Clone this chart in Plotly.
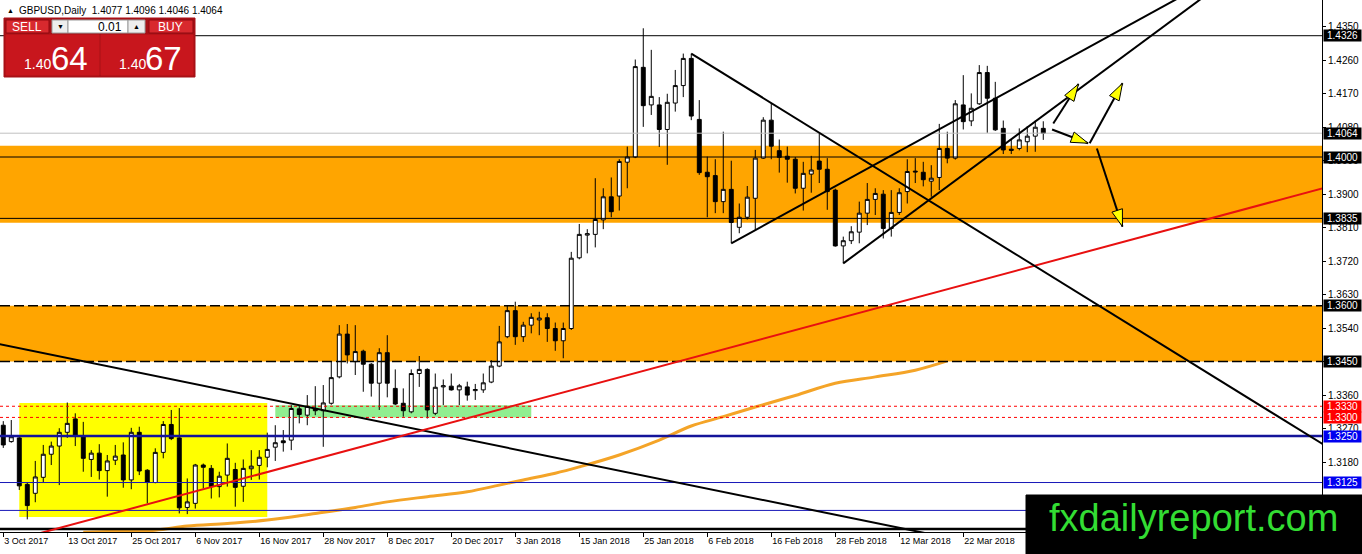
import math
import pandas as pd
import plotly.graph_objects as go

# daily bars (MT4 server has no bars for 25 Dec / 1 Jan)
dates = [d.strftime("%Y-%m-%d") for d in pd.bdate_range("2017-10-03", "2018-04-05")
         if d.strftime("%m-%d") not in ("12-25", "01-01")]

opens = [1.3279, 1.3235, 1.3245, 1.3120, 1.3096, 1.3139, 1.3201, 1.3223, 1.3260, 1.3296,
         1.3251, 1.3187, 1.3204, 1.3157, 1.3185, 1.3199, 1.3132, 1.3260, 1.3158, 1.3125,
         1.3206, 1.3281, 1.3245, 1.3058, 1.3069, 1.3172, 1.3163, 1.3114, 1.3145, 1.3160,
         1.3115, 1.3162, 1.3171, 1.3193, 1.3220, 1.3237, 1.3239, 1.3323, 1.3306, 1.3324,
         1.3318, 1.3338, 1.3409, 1.3524, 1.3450, 1.3478, 1.3443, 1.3392, 1.3474, 1.3378,
         1.3338, 1.3315, 1.3418, 1.3429, 1.3311, 1.3382, 1.3384, 1.3374, 1.3382, 1.3372,
         1.3374, 1.3395, 1.3438, 1.3517, 1.3587, 1.3517, 1.3548, 1.3562, 1.3568, 1.3539,
         1.3506, 1.3539, 1.3729, 1.3790, 1.3792, 1.3831, 1.3893, 1.3895, 1.3986, 1.4000,
         1.4241, 1.4140, 1.4140, 1.4074, 1.4145, 1.4192, 1.4265, 1.4101, 1.3959, 1.3950,
         1.3880, 1.3913, 1.3811, 1.3838, 1.3889, 1.3997, 1.4099, 1.4017, 1.4002, 1.3994,
         1.3916, 1.3954, 1.3989, 1.3967, 1.3911, 1.3761, 1.3775, 1.3798, 1.3849, 1.3886,
         1.3900, 1.3808, 1.3851, 1.3907, 1.3962, 1.3959, 1.3935, 1.3945, 1.4023, 1.3997,
         1.4140, 1.4097, 1.4143, 1.4227, 1.4158, 1.4077, 1.4021, 1.4023, 1.4041, 1.4056,
         1.4077]
highs = [1.3290, 1.3293, 1.3248, 1.3126, 1.3183, 1.3226, 1.3235, 1.3271, 1.3340, 1.3311,
         1.3288, 1.3212, 1.3228, 1.3199, 1.3226, 1.3233, 1.3272, 1.3275, 1.3161, 1.3217,
         1.3290, 1.3320, 1.3325, 1.3136, 1.3175, 1.3176, 1.3172, 1.3154, 1.3230, 1.3178,
         1.3187, 1.3212, 1.3212, 1.3259, 1.3279, 1.3266, 1.3333, 1.3331, 1.3360, 1.3384,
         1.3387, 1.3450, 1.3548, 1.3551, 1.3548, 1.3482, 1.3446, 1.3486, 1.3521, 1.3429,
         1.3378, 1.3429, 1.3465, 1.3432, 1.3418, 1.3402, 1.3418, 1.3390, 1.3396, 1.3390,
         1.3418, 1.3454, 1.3546, 1.3602, 1.3611, 1.3557, 1.3580, 1.3584, 1.3580, 1.3555,
         1.3555, 1.3745, 1.3820, 1.3806, 1.3943, 1.3916, 1.3945, 1.3994, 1.4028, 1.4262,
         1.4346, 1.4288, 1.4161, 1.4170, 1.4234, 1.4278, 1.4278, 1.4153, 1.4001, 1.3994,
         1.4068, 1.3990, 1.3875, 1.3922, 1.4019, 1.4107, 1.4145, 1.4047, 1.4028, 1.4000,
         1.3987, 1.4003, 1.4063, 1.3997, 1.3915, 1.3786, 1.3814, 1.3880, 1.3930, 1.3916,
         1.3911, 1.3911, 1.3916, 1.3994, 1.3997, 1.3987, 1.3978, 1.4089, 1.4068, 1.4153,
         1.4220, 1.4171, 1.4247, 1.4245, 1.4202, 1.4098, 1.4046, 1.4077, 1.4083, 1.4098,
         1.4096]
lows = [1.3218, 1.3232, 1.3105, 1.3026, 1.3072, 1.3126, 1.3172, 1.3118, 1.3245, 1.3223,
        1.3154, 1.3140, 1.3133, 1.3087, 1.3172, 1.3111, 1.3107, 1.3145, 1.3069, 1.3123,
        1.3190, 1.3239, 1.3042, 1.3040, 1.3055, 1.3109, 1.3082, 1.3085, 1.3114, 1.3060,
        1.3073, 1.3132, 1.3133, 1.3166, 1.3183, 1.3208, 1.3212, 1.3284, 1.3279, 1.3306,
        1.3221, 1.3334, 1.3405, 1.3445, 1.3414, 1.3369, 1.3356, 1.3320, 1.3354, 1.3333,
        1.3302, 1.3311, 1.3382, 1.3297, 1.3306, 1.3333, 1.3372, 1.3333, 1.3345, 1.3347,
        1.3366, 1.3392, 1.3435, 1.3513, 1.3495, 1.3503, 1.3526, 1.3521, 1.3503, 1.3479,
        1.3459, 1.3535, 1.3725, 1.3741, 1.3757, 1.3806, 1.3838, 1.3856, 1.3916, 1.3997,
        1.4081, 1.4113, 1.4027, 1.3979, 1.4122, 1.4161, 1.4099, 1.3952, 1.3838, 1.3849,
        1.3849, 1.3768, 1.3795, 1.3832, 1.3804, 1.3995, 1.3994, 1.3958, 1.3931, 1.3902,
        1.3856, 1.3904, 1.3930, 1.3858, 1.3759, 1.3714, 1.3766, 1.3768, 1.3817, 1.3844,
        1.3781, 1.3786, 1.3844, 1.3875, 1.3930, 1.3921, 1.3893, 1.3911, 1.3983, 1.3993,
        1.4074, 1.4083, 1.4140, 1.4065, 1.4070, 1.4008, 1.4008, 1.4018, 1.4013, 1.4014,
        1.4046]
closes = [1.3226, 1.3248, 1.3116, 1.3063, 1.3140, 1.3201, 1.3223, 1.3260, 1.3284, 1.3251,
          1.3190, 1.3204, 1.3157, 1.3183, 1.3196, 1.3132, 1.3260, 1.3156, 1.3125, 1.3206,
          1.3281, 1.3243, 1.3057, 1.3073, 1.3172, 1.3166, 1.3114, 1.3142, 1.3190, 1.3112,
          1.3163, 1.3169, 1.3193, 1.3214, 1.3232, 1.3232, 1.3324, 1.3308, 1.3330, 1.3318,
          1.3339, 1.3407, 1.3524, 1.3468, 1.3477, 1.3443, 1.3392, 1.3474, 1.3392, 1.3336,
          1.3318, 1.3418, 1.3429, 1.3320, 1.3381, 1.3385, 1.3374, 1.3385, 1.3360, 1.3375,
          1.3393, 1.3438, 1.3503, 1.3587, 1.3517, 1.3548, 1.3569, 1.3567, 1.3539, 1.3506,
          1.3539, 1.3728, 1.3792, 1.3794, 1.3832, 1.3893, 1.3853, 1.3988, 1.4000, 1.4243,
          1.4138, 1.4163, 1.4074, 1.4147, 1.4192, 1.4265, 1.4110, 1.3958, 1.3947, 1.3880,
          1.3913, 1.3824, 1.3838, 1.3892, 1.3997, 1.4099, 1.4029, 1.3999, 1.3994, 1.3916,
          1.3956, 1.3965, 1.3967, 1.3907, 1.3761, 1.3775, 1.3799, 1.3849, 1.3886, 1.3902,
          1.3808, 1.3851, 1.3904, 1.3961, 1.3960, 1.3939, 1.3943, 1.4023, 1.3997, 1.4143,
          1.4095, 1.4131, 1.4227, 1.4158, 1.4073, 1.4019, 1.4018, 1.4046, 1.4056, 1.4080,
          1.4064]

# moving average, read where it is visible (it runs under the orange zone after mid March)
ma_dates = ["2017-10-17", "2017-10-23", "2017-10-30", "2017-11-03", "2017-11-10", "2017-11-17",
            "2017-11-27", "2017-12-04", "2017-12-08", "2017-12-15", "2017-12-22", "2017-12-29",
            "2018-01-04", "2018-01-10", "2018-01-15", "2018-01-22", "2018-01-29", "2018-02-02",
            "2018-02-08", "2018-02-14", "2018-02-21", "2018-02-28", "2018-03-07", "2018-03-14",
            "2018-03-20"]
ma_values = [1.2991, 1.2994, 1.2997, 1.3008, 1.3015, 1.3024, 1.3042, 1.3058, 1.3073, 1.3087,
             1.3100, 1.3118, 1.3132, 1.3150, 1.3167, 1.3199, 1.3239, 1.3277, 1.3302, 1.3328,
             1.3359, 1.3392, 1.3409, 1.3427, 1.3452]

title_text = "GBPUSD,Daily  1.4077 1.4096 1.4046 1.4064"
y_ticks = [1.4350, 1.4260, 1.4170, 1.4080, 1.3990, 1.3900, 1.3810, 1.3720, 1.3630,
           1.3540, 1.3450, 1.3360, 1.3270, 1.3180]

# horizontal levels: price, colour, width, dash
levels = [(1.4326, "black", 1, "solid"), (1.4064, "#C0C0C0", 1, "solid"),
          (1.4000, "black", 1, "solid"), (1.3835, "black", 1, "solid"),
          (1.3600, "black", 1.5, "10px,4px"), (1.3450, "black", 1.5, "10px,4px"),
          (1.3330, "#FF0000", 1, "3px,3px"), (1.3300, "#FF0000", 1, "3px,3px"),
          (1.3250, "#14149A", 2.5, "solid"), (1.3125, "#1818B8", 1, "solid"),
          (1.3050, "#1818B8", 1, "solid"), (1.3000, "black", 2.5, "solid")]
level_tags = [(1.4326, "black"), (1.4064, "black"), (1.4000, "black"), (1.3835, "black"),
              (1.3600, "black"), (1.3450, "black"), (1.3330, "#FF0000"), (1.3300, "#FF0000"),
              (1.3250, "#0000F0"), (1.3125, "#0000F0")]

# price zones: low, high, colour
zones = [(1.3823, 1.4030, "#FFA500"), (1.3450, 1.3600, "#FFA500")]
boxes = [("2017-10-05", "2017-11-17", 1.3032, 1.3339, "#FFFF00"),
         ("2017-11-20", "2018-01-05", 1.3300, 1.3333, "#90EE90")]

# trend lines: date a, price a, date b, price b, extend
trend_lines = [("2017-10-03", 1.3495, "2018-02-22", 1.3056, "both", "black"),
               ("2017-10-31", 1.3078, "2018-04-05", 1.3714, "both", "#E81010"),
               ("2018-02-02", 1.4278, "2018-02-16", 1.4145, "right", "black"),
               ("2018-02-09", 1.3768, "2018-03-22", 1.4110, "right", "black"),
               ("2018-03-01", 1.3714, "2018-03-29", 1.4032, "right", "black")]

# projection arrows drawn ahead of the last bar: (bar, price) -> (bar, price)
arrows = [(131.25, 1.4090, 134.4, 1.4196), (131.1, 1.4074, 135.6, 1.4037),
          (135.8, 1.4037, 139.9, 1.4198), (136.7, 1.4023, 139.9, 1.3813)]

W, H = 1362, 554
MARGIN = dict(l=0, r=40, t=0, b=22)
PW = W - MARGIN["l"] - MARGIN["r"]
PH = H - MARGIN["t"] - MARGIN["b"]
X_RANGE = [-0.41, 164.84]
Y_RANGE = [1.2992, 1.4422]
SX = PW / (X_RANGE[1] - X_RANGE[0])
SY = PH / (Y_RANGE[1] - Y_RANGE[0])

bar = {d: i for i, d in enumerate(dates)}
xs = list(range(len(dates)))


def px(x):
    return x / PW


def py(y):
    return 1 - y / PH


fig = go.Figure()

fig.add_trace(go.Scatter(
    x=[bar[d] for d in ma_dates], y=ma_values, mode="lines",
    line=dict(color="#F4A428", width=3, shape="spline"), hoverinfo="skip"))

fig.add_trace(go.Candlestick(
    x=xs, open=opens, high=highs, low=lows, close=closes,
    increasing=dict(line=dict(color="black", width=1), fillcolor="white"),
    decreasing=dict(line=dict(color="black", width=1), fillcolor="black"),
    whiskerwidth=0, hoverinfo="skip"))

shapes = []
for lo, hi, col in zones:
    shapes.append(dict(type="rect", xref="paper", yref="y", x0=0, x1=1, y0=lo, y1=hi,
                       fillcolor=col, line=dict(width=0), layer="below"))
for d0, d1, lo, hi, col in boxes:
    shapes.append(dict(type="rect", xref="x", yref="y", x0=bar[d0], x1=bar[d1], y0=lo, y1=hi,
                       fillcolor=col, line=dict(width=0), layer="below"))

for price, col, w, dash in levels:
    shapes.append(dict(type="line", xref="paper", yref="y", x0=0, x1=1, y0=price, y1=price,
                       line=dict(color=col, width=w, dash=dash), layer="above"))

for d0, p0, d1, p1, ext, col in trend_lines:
    i0, i1 = bar[d0], bar[d1]
    slope = (p1 - p0) / (i1 - i0)
    xa = i0 if ext == "right" else X_RANGE[0] - 2
    xb = X_RANGE[1] + 2
    shapes.append(dict(type="line", xref="x", yref="y", x0=xa, x1=xb,
                       y0=p0 + slope * (xa - i0), y1=p0 + slope * (xb - i0),
                       line=dict(color=col, width=2), layer="above"))

for x0, y0, x1, y1 in arrows:
    shapes.append(dict(type="line", xref="x", yref="y", x0=x0, y0=y0, x1=x1, y1=y1,
                       line=dict(color="black", width=2), layer="above"))
    dx, dy = (x1 - x0) * SX, (y1 - y0) * SY
    n = math.hypot(dx, dy)
    ux, uy = dx / n, dy / n
    ln, hw = 17, 5.5
    pts = [(x1, y1),
           (x1 + (-ux * ln - uy * hw) / SX, y1 + (-uy * ln + ux * hw) / SY),
           (x1 + (-ux * ln + uy * hw) / SX, y1 + (-uy * ln - ux * hw) / SY)]
    path = "M " + " L ".join(f"{a:.4f},{b:.5f}" for a, b in pts) + " Z"
    shapes.append(dict(type="path", xref="x", yref="y", path=path, fillcolor="#FFFF00",
                       line=dict(color="black", width=1), layer="above"))


def prect(x0, y0, x1, y1, fill, line=None):
    shapes.append(dict(type="rect", xref="paper", yref="paper", x0=px(x0), x1=px(x1),
                       y0=py(y1), y1=py(y0), fillcolor=fill, layer="above",
                       line=dict(color=line or fill, width=1)))


# one click trading panel
prect(4, 18, 195, 77, "#A81016")
prect(6, 20, 49, 33, "#D8292E", "#8E0B10")
prect(149, 20, 193, 33, "#D8292E", "#8E0B10")
prect(52, 20, 68, 33, "#EEEEEE", "#9A9A9A")
prect(68, 20, 128, 33, "#FFFFFF", "#9A9A9A")
prect(128, 20, 145, 33, "#EEEEEE", "#9A9A9A")
prect(6, 35, 99, 75, "#C8161D")
prect(101, 35, 193, 75, "#C8161D")
# watermark
prect(1026, 495, 1362, 554, "#000000")

annotations = []


def ptext(text, x, y, size, color, xanchor="center", font="Liberation Sans"):
    annotations.append(dict(text=text, xref="paper", yref="paper", x=px(x), y=py(y),
                            xanchor=xanchor, yanchor="middle", showarrow=False,
                            font=dict(size=size, color=color, family=font)))


ptext("▲", 5, 10, 7, "black", "left")
ptext(title_text, 17, 10, 10, "black", "left")
ptext("SELL", 27, 27, 12, "white")
ptext("BUY", 171, 27, 12, "white")
ptext("▼", 60, 27, 7, "black")
ptext("▲", 136.5, 27, 7, "black")
ptext("0.01", 124, 27, 12, "black", "right")
ptext("1.40", 37, 64, 14, "white")
ptext("64", 69, 58, 33, "white")
ptext("1.40", 132, 64, 14, "white")
ptext("67", 163, 58, 33, "white")
ptext("fxdailyreport.com", 1193, 518, 38, "#33DD33")

for price, col in level_tags:
    annotations.append(dict(text=f"{price:.4f}", xref="paper", yref="y", x=px(PW + 1), y=price,
                            xanchor="left", yanchor="middle", showarrow=False,
                            width=37, height=11, bgcolor=col, borderpad=0,
                            font=dict(size=10, color="white", family="Liberation Sans")))

tick_idx = list(range(0, 121, 8))
tick_text = [f"{pd.Timestamp(dates[i]).day} {pd.Timestamp(dates[i]).strftime('%b %Y')}"
             for i in tick_idx]

fig.update_layout(
    width=W, height=H, margin=MARGIN, paper_bgcolor="white", plot_bgcolor="white",
    showlegend=False, hovermode=False, shapes=shapes, annotations=annotations,
    xaxis=dict(range=X_RANGE, tickvals=tick_idx, ticktext=tick_text, ticks="outside",
               ticklen=4, tickcolor="black", ticklabelposition="outside right",
               showline=True, linecolor="black", linewidth=1, mirror=True,
               showgrid=False, zeroline=False, rangeslider=dict(visible=False),
               tickfont=dict(family="Liberation Sans", size=9, color="black")),
    yaxis=dict(range=Y_RANGE, side="right", tickvals=y_ticks,
               ticktext=[f"{v:.4f}" for v in y_ticks], ticks="outside", ticklen=3,
               tickcolor="black", showline=True, linecolor="black", linewidth=1,
               mirror=True, showgrid=False, zeroline=False,
               tickfont=dict(family="Liberation Sans", size=10, color="black")),
)

# the page body has a default 8px margin; drop it so the chart fills the window exactly
fig.write_html("out.html", config={"displayModeBar": False},
               post_script="document.body.style.margin='0';document.body.style.padding='0';")
